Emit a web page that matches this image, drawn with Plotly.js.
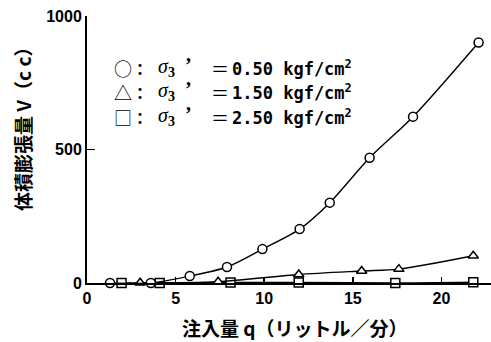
<!DOCTYPE html>
<html>
<head>
<meta charset="utf-8">
<script src="https://cdn.plot.ly/plotly-3.0.1.min.js"></script>
<style>html,body{margin:0;padding:0;background:#fff;}#chart{width:491px;height:342px;}</style>
</head>
<body>
<div id="chart"></div>
<script>
// Data
const circleX = [1.3, 3.6, 5.8, 7.9, 9.9, 12.0, 13.7, 15.95, 18.4, 22.1];
const circleY = [0, 0, 26, 60, 127, 202, 301, 469, 623, 901];
const triX = [3.0, 7.4, 11.95, 15.5, 17.6, 21.8];
const triY = [1, 5, 32, 45, 52, 102];
const sqX = [1.95, 4.1, 8.1, 11.95, 17.4, 21.8];
const sqY = [0, 0, 2, 2, 0, 3];

const xTicks = [0, 5, 10, 15, 20];
const yTicks = [0, 500, 1000];
const legendSymbols = ['○', '△', '□'];
const legendValues = ['0.50', '1.50', '2.50'];
const yTitle = '体積膨張量 V（c c）';
const xTitle = '注入量 q（リットル／分）';

const markerStyle = (sym) => ({symbol: sym, size: 9, color: '#fff', line: {color: '#000', width: 1.5}});
const lineStyle = {color: '#000', width: 1.4, shape: 'spline', smoothing: 0.8};

const traces = [
  {x: sqX, y: sqY, mode: 'lines+markers', line: lineStyle, marker: markerStyle('square'), cliponaxis: false},
  {x: triX, y: triY, mode: 'lines+markers', line: lineStyle, marker: markerStyle('triangle-up'), cliponaxis: false},
  {x: circleX, y: circleY, mode: 'lines+markers', line: lineStyle, marker: markerStyle('circle'), cliponaxis: false}
];

const L = 87, T = 16, W = 404, H = 267;
const px2x = (px) => (px - L) / W;
const py2y = (py) => (T + H - py) / H;

const annotations = [];
const rowY = [67.5, 91.8, 116.7];
const ann = (text, px, py, anchor, font) => annotations.push({
  xref: 'paper', yref: 'paper', x: px2x(px), y: py2y(py), xanchor: anchor, yanchor: 'middle',
  text: text, showarrow: false, font: Object.assign({color: '#000'}, font)
});
legendSymbols.forEach((s, i) => {
  const y = rowY[i];
  ann(s, 123, y, 'center', {family: 'Noto Sans CJK JP', size: 18});
  ann('<b>：</b>', 140, y, 'center', {family: 'Noto Sans CJK JP', size: 16});
  ann('<i>σ</i><sub><b>3</b></sub>', 156, y, 'left', {family: 'Liberation Serif', size: 20});
  ann('<b>’</b>', 188, y - 3, 'center', {family: 'Liberation Serif', size: 20});
  ann('＝', 220, y, 'center', {family: 'Noto Sans CJK JP', size: 18});
  ann('<b>' + legendValues[i] + ' kgf/cm<sup>2</sup></b>', 230, y, 'left', {family: 'DejaVu Sans Mono', size: 17});
});
ann('<b>' + yTitle + '</b>', 22, 125, 'center', {family: 'Noto Sans CJK JP', size: 19});
annotations[annotations.length - 1].textangle = -90;
ann('<b>' + xTitle + '</b>', 295, 327, 'center', {family: 'Noto Sans CJK JP', size: 19});

const layout = {
  width: 491, height: 342,
  margin: {l: L, r: 0, t: T, b: 342 - T - H},
  paper_bgcolor: '#fff', plot_bgcolor: '#fff',
  showlegend: false,
  xaxis: {
    range: [0, 22.8], tickvals: xTicks, ticktext: xTicks.map(String),
    showgrid: false, zeroline: false, showline: true, linecolor: '#000', linewidth: 2,
    ticks: 'inside', ticklen: 6, tickwidth: 1.5, tickcolor: '#000',
    tickfont: {family: 'Liberation Sans', size: 16, color: '#000', weight: 'bold'},
    fixedrange: true
  },
  yaxis: {
    range: [0, 1000], tickvals: yTicks, ticktext: yTicks.map(String),
    showgrid: false, zeroline: false, showline: true, linecolor: '#000', linewidth: 2,
    ticks: 'inside', ticklen: 8, tickwidth: 1.5, tickcolor: '#000',
    tickfont: {family: 'Liberation Sans', size: 16, color: '#000', weight: 'bold'},
    fixedrange: true
  },
  annotations: annotations
};

Plotly.newPlot('chart', traces, layout, {staticPlot: true, displayModeBar: false});
</script>
</body>
</html>
